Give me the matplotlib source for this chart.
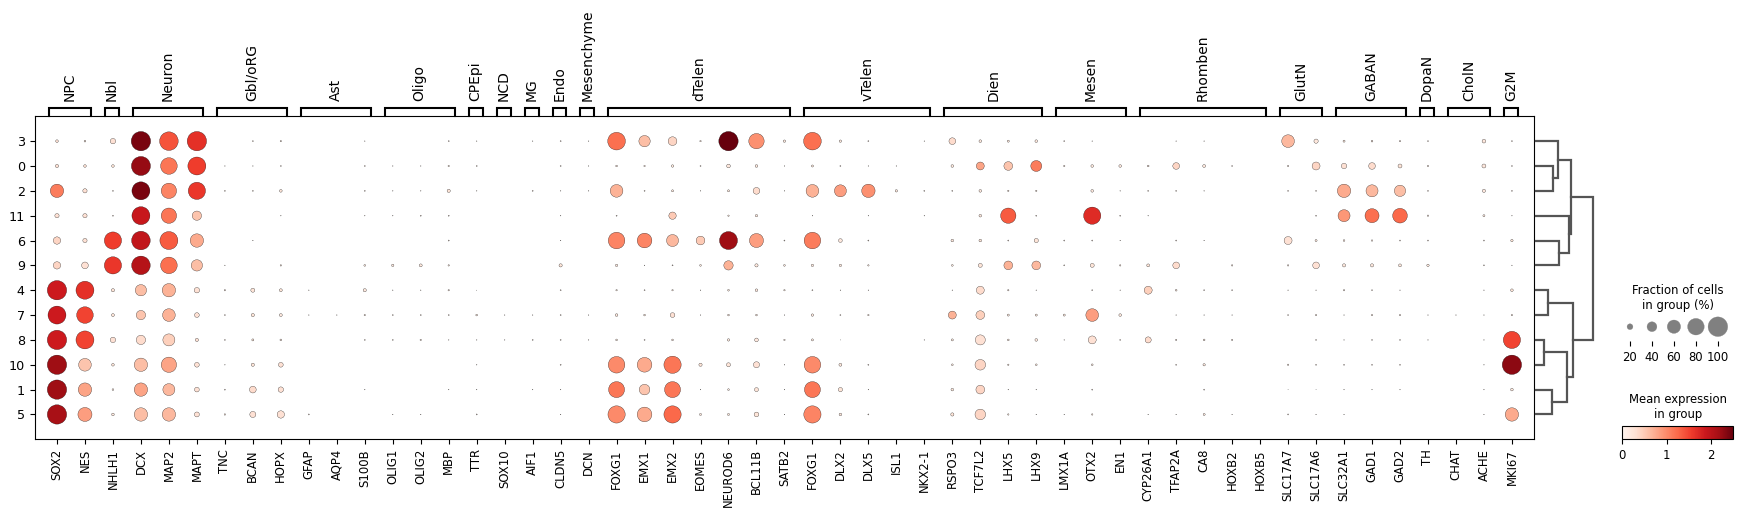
import matplotlib
matplotlib.use("Agg")
import matplotlib.pyplot as plt
from matplotlib.cm import ScalarMappable
from matplotlib.colors import Normalize
import numpy as np

W, H = 1742, 517

group_names = ["NPC", "Nbl", "Neuron", "Gbl/oRG", "Ast", "Oligo", "CPEpi", "NCD", "MG", "Endo", "Mesenchyme",
               "dTelen", "vTelen", "Dien", "Mesen", "Rhomben", "GlutN", "GABAN", "DopaN", "CholN", "G2M"]
group_sizes = [2, 1, 3, 3, 3, 3, 1, 1, 1, 1, 1, 7, 5, 4, 3, 5, 2, 3, 1, 2, 1]
genes = ["SOX2", "NES", "NHLH1", "DCX", "MAP2", "MAPT", "TNC", "BCAN", "HOPX", "GFAP", "AQP4", "S100B",
         "OLIG1", "OLIG2", "MBP", "TTR", "SOX10", "AIF1", "CLDN5", "DCN",
         "FOXG1", "EMX1", "EMX2", "EOMES", "NEUROD6", "BCL11B", "SATB2",
         "FOXG1", "DLX2", "DLX5", "ISL1", "NKX2-1", "RSPO3", "TCF7L2", "LHX5", "LHX9",
         "LMX1A", "OTX2", "EN1", "CYP26A1", "TFAP2A", "CA8", "HOXB2", "HOXB5",
         "SLC17A7", "SLC17A6", "SLC32A1", "GAD1", "GAD2", "TH", "CHAT", "ACHE", "MKI67"]
clusters = ["3", "0", "2", "11", "6", "9", "4", "7", "8", "10", "1", "5"]

# fraction of cells expressing (%), rows follow clusters, columns follow genes
fraction_pct = [
 [7,4, 18, 98,93,98, 0,2,3, 0,0,1, 0,0,2, 1, 0, 1, 2, 1, 87,48,34,3,98,72,6, 87,6,2,0,1, 24,7,5,7, 2,1,0, 0,1,1,0,0, 56,13, 5,4,3, 2, 0,11, 2],
 [9,7, 7, 96,80,89, 1,1,2, 0,0,2, 1,1,3, 2, 0, 0, 2, 1, 4,3,6,2,11,7,1, 5,2,1,1,0, 7,30,34,46, 3,7,7, 4,24,8,2,0, 3,30, 18,24,12, 3, 0,12, 2],
 [60,13, 2, 89,72,84, 2,2,7, 0,0,2, 1,1,9, 1, 0, 2, 1, 1, 56,2,5,1,5,24,1, 56,52,60,6,2, 2,7,3,3, 0,7,1, 2,2,1,0,0, 2,2, 60,52,48, 2, 0,9, 2],
 [13,13, 2, 89,72,37, 0,0,1, 0,0,1, 1,2,2, 0, 0, 0, 1, 0, 2,0,27,0,3,6,0, 1,0,1,0,1, 0,7,72,2, 0,84,2, 1,0,0,0,0, 0,2, 52,64,68, 3, 0,5, 1],
 [27,13, 84, 93,89,60, 0,1,0, 0,0,0, 0,0,2, 0, 0, 0, 1, 0, 80,68,52,34,89,64,2, 80,11,2,0,0, 7,7,2,13, 2,2,1, 0,2,1,0,0, 30,5, 4,3,2, 2, 0,2, 6],
 [27,24, 84, 93,80,48, 1,0,3, 0,0,4, 6,8,3, 0, 0, 0, 9, 0, 6,1,2,4,37,9,4, 6,6,3,0,0, 4,12,34,34, 2,12,3, 8,24,0,3,0, 3,24, 9,9,8, 6, 0,2, 1],
 [98,89, 9, 48,60,18, 3,12,8, 1,0,9, 1,1,3, 0.4, 0, 0, 2, 0, 3,2,3,1,4,7,3, 2,1,1,0,0, 1,30,3,1, 0,2,1, 30,4,2,2,0, 1,1, 3,2,1, 0, 0,1, 7],
 [89,80, 8, 37,56,15, 2,9,8, 1,1,3, 2,2,2, 4, 1, 1, 2, 1, 7,4,15,1,4,4,1, 6,2,3,0,0, 30,34,5,5, 5,56,7, 0,1,1,1,0, 2,3, 1,3,3, 1, 1,1, 3],
 [98,89, 18, 37,52,9, 2,5,4, 0,0,2, 2,3,1, 1, 1, 2, 2, 1, 4,2,4,0,6,11,3, 5,0.4,0,0,1, 5,41,4,7, 1,30,2, 21,3,4,3,0, 0,2, 1,2,2, 1, 0,1, 84],
 [98,56, 7, 60,72,15, 1,9,15, 0,0,0, 0,0,0, 1, 0, 0, 2, 0, 80,68,84,9,12,21,1, 80,8,2,0,0, 4,44,3,4, 0,4,0, 0,2,6,0,0, 3,2, 2,2,2, 0, 0,1, 98],
 [98,60, 4, 60,52,15, 2,24,18, 0,0,1, 0,0,1, 1, 0, 1, 1, 0, 76,44,76,1,4,12,1, 76,13,1,0,0, 7,34,1,1, 0,2,0, 0,0,2,0,0, 0.4,0.4, 1,1,1, 0, 0,1, 7],
 [98,64, 7, 60,60,16, 3,21,27, 2,0,0, 1,1,0, 2, 0, 0, 1, 0, 84,68,84,5,5,15,1, 84,7,2,0,0, 9,44,3,1, 1,3,0, 1,1,5,1,0, 2,1, 1,0,0, 0, 0,1, 60],
]

# mean expression in group, same layout
mean_expr = [
 [.3,.2, .3, 2.4,1.4,1.65, 0,.2,.2, 0,0,.2, 0,0,.2, .2, 0, .2, .2, .2, 1.2,.6,.4,.2,2.49,.95,.2, 1.2,.2,.2,0,.2, .35,.2,.2,.2, .2,.2,0, 0,.2,.2,0,0, .65,.2, .2,.2,.2, .2, 0,.2, .2],
 [.3,.3, .25, 2.25,1.15,1.55, .2,.2,.2, 0,0,.2, .2,.2,.2, .2, 0, 0, .2, .2, .2,.2,.2,.2,.2,.2,.2, .2,.2,.2,.2,0, .2,.8,.55,1.1, .2,.2,.2, .2,.4,.2,.2,0, .2,.4, .3,.35,.25, .2, 0,.2, .2],
 [1.1,.3, .2, 2.4,1.05,1.6, .2,.2,.25, 0,0,.2, .2,.2,.25, .2, 0, .2, .2, .2, .7,.2,.2,.2,.2,.35,.2, .7,.85,.95,.2,.2, .2,.2,.2,.2, 0,.2,.2, .2,.2,.2,0,0, .2,.2, .75,.65,.6, .2, 0,.2, .2],
 [.3,.3, .2, 1.9,1.15,.55, 0,0,.2, 0,0,.2, .2,.2,.2, 0, 0, 0, .2, 0, .2,0,.5,0,.2,.2,0, .2,0,.2,0,.2, 0,.2,1.35,.2, 0,1.7,.2, .2,0,0,0,0, 0,.2, .9,1.2,1.25, .2, 0,.2, .2],
 [.4,.3, 1.55, 1.95,1.35,.75, 0,.2,0, 0,0,0, 0,0,.2, 0, 0, 0, .2, 0, 1.05,1.05,.65,.5,2.2,.85,.2, 1.1,.2,.2,0,0, .2,.25,.2,.25, .2,.2,.2, 0,.2,.2,0,0, .3,.2, .2,.2,.2, .2, 0,.2, .25],
 [.4,.3, 1.6, 2.05,1.2,.6, .2,0,.2, 0,0,.2, .2,.2,.2, 0, 0, 0, .25, 0, .2,.2,.2,.2,.7,.2,.2, .2,.2,.2,0,0, .2,.25,.7,.65, .2,.25,.2, .25,.35,0,.2,0, .2,.3, .2,.2,.2, .2, 0,.2, .2],
 [1.85,1.65, .25, .6,.7,.3, .2,.25,.25, .2,0,.2, .2,.2,.2, .2, 0, 0, .2, 0, .2,.2,.2,.2,.2,.2,.2, .2,.2,.2,0,0, .2,.35,.2,.2, 0,.2,.2, .45,.2,.2,.2,0, .2,.2, .2,.2,.2, 0, 0,.2, .25],
 [1.85,1.5, .25, .55,.7,.3, .2,.25,.2, .2,.2,.2, .2,.2,.2, .2, .2, .2, .2, .2, .2,.2,.3,.2,.2,.2,.2, .2,.2,.2,0,0, .7,.45,.2,.2, .2,.85,.2, 0,.2,.2,.2,0, .2,.2, .2,.2,.2, .2, .2,.2, .2],
 [1.85,1.5, .3, .35,.45,.3, .2,.25,.2, 0,0,.2, .2,.2,.2, .2, .2, .2, .2, .2, .2,.2,.2,0,.2,.2,.2, .2,.2,0,0,.2, .2,.3,.2,.2, .2,.3,.2, .35,.2,.2,.2,0, 0,.2, .2,.2,.2, .2, 0,.2, 1.5],
 [2.2,.55, .25, .6,.8,.3, .2,.25,.3, 0,0,0, 0,0,0, .2, 0, 0, .2, 0, 1.0,.75,1.15,.25,.25,.3,.2, 1.0,.2,.2,0,0, .2,.4,.2,.2, 0,.2,0, 0,.2,.2,0,0, .2,.2, .2,.2,.2, 0, 0,.2, 2.3],
 [2.2,.8, .2, .8,.65,.3, .2,.35,.3, 0,0,.2, 0,0,.2, .2, 0, .2, .2, 0, 1.15,.55,1.15,.2,.2,.25,.2, 1.15,.25,.2,0,0, .2,.4,.2,.2, 0,.2,0, 0,0,.2,0,0, .2,.2, .2,.2,.2, 0, 0,.2, .2],
 [2.15,.85, .2, .6,.65,.3, .2,.3,.3, .2,0,0, .2,.2,0, .2, 0, 0, .2, 0, 1.0,.75,1.25,.2,.2,.25,.2, 1.05,.2,.2,0,0, .25,.4,.2,.2, .2,.2,0, .2,.2,.2,.2,0, .2,.2, .2,0,0, 0, 0,.2, .75],
]

# dendrogram merges in row order: child a, child b, height; ids >= 12 refer to earlier merges
dendro_merges = [(1, 2, .304), (0, 12, .386), (4, 5, .409), (3, 14, .585), (13, 15, .62),
                 (6, 7, .216), (8, 9, .146), (10, 11, .287), (18, 19, .55), (17, 20, .655), (16, 21, 1.0)]

legend_fracs = [20, 40, 60, 80, 100]
cbar_ticks = [0, 1, 2]
vmax = 2.49
largest_dot = 200
size_exp = 1.5
font_small = 8.33
font_group = 10


def axpx(fig, x0, y0, x1, y1):
    """Axes from a pixel box with a top-left origin."""
    return fig.add_axes([x0 / W, 1 - y1 / H, (x1 - x0) / W, (y1 - y0) / H])


fig = plt.figure(figsize=(W / 100, H / 100), dpi=100)
L, R, T, B = 35.3, 1534.3, 116.3, 439.3

# main dot plot
ax = axpx(fig, L, T, R, B)
n_g, n_c = len(genes), len(clusters)
xx, yy = np.meshgrid(np.arange(n_g), np.arange(n_c))
frac = np.array(fraction_pct, float)
expr = np.array(mean_expr, float)
sizes = largest_dot * (frac / 100) ** size_exp
ax.scatter(xx.ravel(), yy.ravel(), s=sizes.ravel(), c=expr.ravel(), cmap="Reds", vmin=0, vmax=vmax,
           edgecolor="black", linewidth=0.2, zorder=3)
ax.set_xlim(-0.775, n_g - 1 + 0.8)
ax.set_ylim(n_c, -1)
ax.set_xticks(range(n_g))
ax.set_xticklabels(genes, rotation=90, fontsize=font_small)
ax.set_yticks(range(n_c))
ax.set_yticklabels(clusters, fontsize=9.2)
ax.tick_params(axis="y", pad=4)

# brackets for marker groups
bax = axpx(fig, L, 108, R, T)
bax.set_xlim(ax.get_xlim())
bax.set_ylim(0, 1)
bax.axis("off")
start = 0
for name, size in zip(group_names, group_sizes):
    left, right = start - 0.29, start + size - 1 + 0.21
    bax.plot([left, left, right, right], [0, 1, 1, 0], color="black", lw=1.5, clip_on=False,
             solid_joinstyle="miter")
    bax.text((left + right) / 2, 1.82, name, rotation=90, ha="center", va="bottom", fontsize=font_group)
    start += size

# dendrogram
dax = axpx(fig, 1535.7, T, 1593, B)
dax.set_xlim(0, 1)
dax.set_ylim(ax.get_ylim())
dax.axis("off")
pos = {i: (float(i), 0.0) for i in range(n_c)}
for k, (a, b, h) in enumerate(dendro_merges):
    ya, ha = pos[a]
    yb, hb = pos[b]
    dax.plot([ha, h, h, hb], [ya, ya, yb, yb], color="#555555", lw=1.6, clip_on=False,
             solid_joinstyle="miter")
    pos[n_c + k] = ((ya + yb) / 2, h)

# size legend
lx0, lx1 = 1622.3, 1733.7
sax = axpx(fig, lx0, 315, lx1, 341)
sax.set_xlim(-0.35, 4.72)
sax.set_ylim(0, 1)
lf = np.array(legend_fracs, float)
sax.scatter(range(len(lf)), [0.55] * len(lf), s=largest_dot * (lf / 100) ** size_exp, color="gray",
            edgecolor="gray", linewidth=0.2, clip_on=False)
sax.set_xticks(range(len(lf)))
sax.set_xticklabels([str(v) for v in legend_fracs], fontsize=font_small)
sax.set_yticks([])
for s in sax.spines.values():
    s.set_visible(False)
fig.text((lx0 + lx1) / 2 / W, 1 - 312 / H, "Fraction of cells\nin group (%)", ha="center", va="bottom",
         fontsize=font_small, linespacing=1.2)

# colour bar
cax = axpx(fig, lx0, 426, 1733, 439.3)
cb = fig.colorbar(ScalarMappable(Normalize(0, vmax), "Reds"), cax=cax, orientation="horizontal")
cb.set_ticks(cbar_ticks)
cb.ax.tick_params(labelsize=font_small)
fig.text((lx0 + lx1) / 2 / W, 1 - 421 / H, "Mean expression\nin group", ha="center", va="bottom",
         fontsize=font_small, linespacing=1.2)

fig.savefig("out.png", dpi=100)
